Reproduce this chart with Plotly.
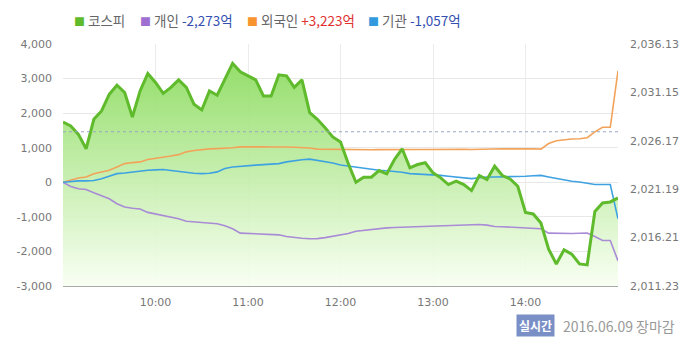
import plotly.graph_objects as go
import pandas as pd

# ---- data (5-minute intervals, 09:00 - 15:00) ----
times = pd.date_range("2016-06-09 09:00", periods=73, freq="5min")

kospi = [2028.10, 2027.69, 2026.83, 2025.35, 2028.38, 2029.24, 2030.96, 2031.89, 2031.14, 2028.62,
         2031.30, 2033.10, 2032.17, 2031.04, 2031.66, 2032.44, 2031.66, 2029.93, 2029.34, 2031.30,
         2030.86, 2032.51, 2034.14, 2033.27, 2032.85, 2032.44, 2030.79, 2030.79, 2032.96, 2032.85,
         2031.66, 2032.44, 2029.07, 2028.38, 2027.52, 2026.57, 2026.06, 2023.84, 2021.90, 2022.42,
         2022.42, 2023.11, 2022.77, 2024.25, 2025.35, 2023.39, 2023.73, 2023.91, 2022.87, 2022.36,
         2021.67, 2022.01, 2021.67, 2021.05, 2022.60, 2022.18, 2023.56, 2022.60, 2022.25, 2021.49,
         2018.80, 2018.64, 2017.71, 2015.02, 2013.50, 2014.95, 2014.51, 2013.50, 2013.40, 2018.91,
         2019.77, 2019.88, 2020.29]

foreign = [0, 60, 125, 155, 250, 300, 350, 445, 540, 570,
           590, 660, 690, 715, 760, 800, 880, 920, 950, 965,
           975, 980, 1000, 1025, 1030, 1025, 1025, 1020, 1030, 1020,
           1015, 1010, 990, 960, 955, 950, 950, 950, 945, 940,
           940, 945, 950, 950, 945, 945, 950, 950, 955, 960,
           965, 960, 955, 950, 960, 965, 970, 970, 965, 970,
           975, 970, 960, 1120, 1200, 1230, 1250, 1260, 1290, 1460,
           1590, 1590, 3223]

individual = [0, -120, -185, -210, -300, -390, -475, -620, -715, -750,
              -770, -870, -920, -960, -1000, -1055, -1125, -1140, -1150, -1175,
              -1200, -1260, -1345, -1470, -1480, -1490, -1490, -1490, -1520, -1570,
              -1600, -1620, -1635, -1630, -1600, -1560, -1520, -1480, -1415, -1390,
              -1360, -1330, -1320, -1310, -1300, -1295, -1290, -1280, -1270, -1255,
              -1240, -1230, -1225, -1220, -1220, -1240, -1280, -1285, -1295, -1300,
              -1330, -1340, -1345, -1470, -1480, -1490, -1480, -1475, -1470, -1570,
              -1685, -1685, -2273]

institution = [0, 30, 40, 40, 50, 105, 180, 250, 270, 300,
               320, 350, 360, 370, 340, 310, 290, 260, 250, 260,
               300, 400, 440, 465, 480, 495, 510, 525, 540, 590,
               630, 650, 670, 640, 600, 560, 500, 470, 430, 400,
               380, 350, 335, 320, 290, 250, 240, 230, 225, 200,
               175, 150, 120, 105, 130, 155, 155, 155, 160, 170,
               175, 190, 200, 155, 110, 60, 30, 10, -30, -65,
               -65, -65, -1057]

prev_close = 2027.1
left_ticks = [-3000, -2000, -1000, 0, 1000, 2000, 3000, 4000]
right_ticks = [2011.23, 2016.21, 2021.19, 2026.17, 2031.15, 2036.13]
hour_ticks = ["2016-06-09 10:00", "2016-06-09 11:00", "2016-06-09 12:00",
              "2016-06-09 13:00", "2016-06-09 14:00"]
hour_labels = ["10:00", "11:00", "12:00", "13:00", "14:00"]

C_GREEN = "#5fba2c"
C_PURPLE = "#a98bd6"
C_ORANGE = "#f2a35a"
C_BLUE = "#3ea2e2"

fig = go.Figure()

# KOSPI area (base axis y, shown on right)
fig.add_trace(go.Scatter(
    x=times, y=kospi, yaxis="y", mode="lines", line=dict(width=0, color=C_GREEN),
    fill="tozeroy",
    fillgradient=dict(type="vertical", start=right_ticks[0], stop=2034.5,
                      colorscale=[[0, "rgba(248,255,242,0.92)"], [1, "rgba(138,219,92,0.92)"]]),
    hoverinfo="skip", showlegend=False))

# investor flows (left axis)
for vals, col in [(foreign, C_ORANGE), (individual, C_PURPLE), (institution, C_BLUE)]:
    fig.add_trace(go.Scatter(x=times, y=vals, yaxis="y2", mode="lines",
                             line=dict(color=col, width=1.6), showlegend=False))

# KOSPI line on top
fig.add_trace(go.Scatter(x=times, y=kospi, yaxis="y3", mode="lines",
                         line=dict(color=C_GREEN, width=3), showlegend=False))

tickfont = dict(family="DejaVu Sans", size=11, color="#777777")

fig.update_layout(
    width=700, height=352,
    margin=dict(l=63, r=82, t=44, b=66),
    paper_bgcolor="white", plot_bgcolor="white",
    xaxis=dict(type="date", range=[times[0], times[-1]],
               tickvals=hour_ticks, ticktext=hour_labels,
               showgrid=True, gridcolor="#ececec", gridwidth=1,
               showline=True, linecolor="#aaaaaa", linewidth=1,
               ticks="", tickfont=tickfont, ticklabelstandoff=6, zeroline=False),
    yaxis=dict(side="right", range=[right_ticks[0], right_ticks[-1]],
               tickvals=right_ticks, ticktext=[f"{v:,.2f}" for v in right_ticks],
               showgrid=False, zeroline=False, tickfont=tickfont, ticklabelstandoff=11),
    yaxis2=dict(overlaying="y", side="left", range=[left_ticks[0], left_ticks[-1]],
                tickvals=left_ticks, ticktext=[f"{v:,}" for v in left_ticks],
                showgrid=True, gridcolor="#e8e8e8", zeroline=False,
                tickfont=tickfont, ticklabelstandoff=10),
    yaxis3=dict(overlaying="y", range=[right_ticks[0], right_ticks[-1]], visible=False),
    shapes=[dict(type="line", xref="paper", x0=0, x1=1, yref="y", y0=prev_close, y1=prev_close,
                 line=dict(color="#9aa6c2", width=1, dash="dot"))],
)

# legend as annotations
lf = dict(family="Noto Sans CJK KR", size=13.5, color="#666666")
def fmt(v):
    return f"{v:+,}억"
legend_items = [
    (0.016, C_GREEN, "코스피", None, None),
    (0.135, "#9e6fd0", "개인", fmt(individual[-1]), "#3350b0"),
    (0.328, "#f7942f", "외국인", fmt(foreign[-1]), "#e03030"),
    (0.546, "#3399dd", "기관", fmt(institution[-1]), "#3350b0"),
]
for xp, sq, name, val, vcol in legend_items:
    txt = f"<span style='color:{sq};font-size:11px'>■</span> {name}"
    if val:
        txt += f" <span style='color:{vcol}'>{val}</span>"
    fig.add_annotation(xref="paper", yref="paper", x=xp, y=1.10, xanchor="left", yanchor="middle",
                       text=txt, showarrow=False, font=lf)

fig.add_annotation(xref="paper", yref="paper", x=0.852, y=-0.165, xanchor="center", yanchor="middle",
                   text="<b>실시간</b>", showarrow=False, bgcolor="#7a8fc6", borderpad=2,
                   font=dict(family="Noto Sans CJK KR", size=12, color="white"))
fig.add_annotation(xref="paper", yref="paper", x=1.106, y=-0.165, xanchor="right", yanchor="middle",
                   text="2016.06.09 장마감", showarrow=False,
                   font=dict(family="Noto Sans CJK KR", size=14, color="#999999"))

fig.write_html("out.html")
